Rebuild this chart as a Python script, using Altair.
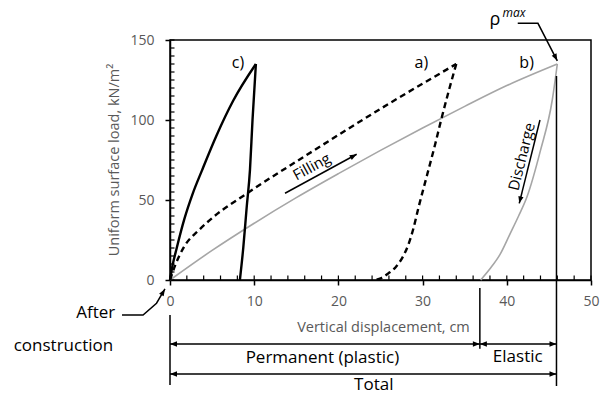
import math
import altair as alt
import pandas as pd

# ---------------- data ----------------
c_load_x = [0, 0.3, 0.8, 1.7, 2.7, 3.8, 5.5, 7.5, 10.2]
c_load_y = [0, 9, 20, 38, 54, 68.5, 90, 112, 135]
c_unload_x = [10.2, 9.8, 9.5, 9.1, 8.7, 8.3]
c_unload_y = [135, 100, 69, 45, 20, 0]

a_load_x = [0, 0.6, 1.7, 3.4, 5.3, 9.1, 16.2, 26.1, 34.0]
a_load_y = [0, 9, 21, 31, 40, 54, 78, 110.5, 135]
a_unload_x = [34.0, 33.2, 32.2, 31.5, 30.5, 29.5, 28.9, 28.3, 27.6, 26.8, 25.9, 25.1, 24.4]
a_unload_y = [135, 120, 100, 85, 65, 45, 32, 22, 14, 8, 4, 1.2, 0]

b_load_x = [0, 5, 10, 15, 20, 25, 30, 35, 40, 46.0]
b_load_y = [0, 18.5, 35.5, 51.5, 66.5, 81, 95, 108.5, 121.5, 135]
b_unload_x = [46.0, 45.4, 44.0, 42.4, 41.4, 40.4, 39.2, 38.0, 36.9]
b_unload_y = [135, 112.5, 81, 52, 40, 29, 16, 7, 0]

x_ticks = [0, 10, 20, 30, 40, 50]
y_ticks = [0, 25, 50, 75, 100, 125, 150]
x_minor = list(range(0, 51, 2))
y_minor = list(range(0, 151, 5))

# annotation texts
label_text = ["c)", "a)", "b)", "Filling", "Discharge", "\u03c1",
              "After", "construction", "Vertical displacement,  cm",
              "Permanent (plastic)", "Elastic", "Total",
              "Uniform surface load, kN/m\u00b2"]
label_x = [8.07, 29.86, 42.35, 16.83, 41.77, 38.6, -6.5, -6.75, 35.6, 18.1, 41.3, 24.2, -6.53]
label_y = [135.6, 135.6, 135.6, 70.8, 77.1, 162.5, -20.8, -41.25, -30, -48.75, -48.1, -65.8, 75]
label_size = [16, 16, 16, 15, 15, 18, 17, 17, 14.5, 17, 17, 17, 14.5]
label_angle = [0, 0, 0, 331.4, 284, 0, 0, 0, 0, 0, 0, 0, 270]
label_align = ["center", "center", "center", "center", "center", "center",
               "right", "right", "right", "center", "center", "center", "center"]
label_color = ["#000000"] * 8 + ["#595959"] + ["#000000"] * 3 + ["#595959"]

sup_text = ["max"]
sup_x = [39.5]
sup_y = [166.7]

# annotation polylines: (name, xs, ys, head_at_start, head_at_end)
arrows = [
    ("filling", [13.66, 22.17], [54.2, 78.6], False, True),
    ("discharge", [43.94, 41.48], [100.0, 47.9], False, True),
    ("permanent", [0, 36.8], [-40, -40], True, True),
    ("elastic", [36.8, 45.9], [-40, -40], True, True),
    ("total", [0, 45.9], [-58.75, -58.75], True, True),
    ("after", [-5.7, -3.2, -1.6, -0.6], [-21.9, -21.9, -14.5, -5.6], False, True),
    ("rho", [41.3, 43.7, 46.0], [160.4, 160.4, 137.0], False, True),
    ("v0", [0, 0], [-21.9, -65.6], False, False),
    ("v37", [36.8, 36.8], [-5, -43], False, False),
    ("v46", [45.9, 45.9], [127.5, -66.25], False, False),
]

# ---------------- geometry ----------------
W, H = 421, 240
XMAX, YMAX = 50, 150
SX, SY = W / XMAX, H / YMAX
FONT = "Open Sans"


def curve(name, xs, ys):
    return pd.DataFrame({"s": name, "o": range(len(xs)), "x": xs, "y": ys})


curves = pd.concat([
    curve("c1", c_load_x, c_load_y), curve("c2", c_unload_x, c_unload_y),
])
dashed = pd.concat([
    curve("a1", a_load_x, a_load_y), curve("a2", a_unload_x, a_unload_y),
])
gray = pd.concat([
    curve("b1", b_load_x, b_load_y), curve("b2", b_unload_x, b_unload_y),
])

xs_scale = alt.Scale(domain=[0, XMAX], nice=False, zero=False)
ys_scale = alt.Scale(domain=[0, YMAX], nice=False, zero=False)


def head_angle(x1, y1, x2, y2):
    dx = (x2 - x1) * SX
    dy = -(y2 - y1) * SY
    return math.degrees(math.atan2(dx, -dy)) % 360


line_rows, head_rows = [], []
for name, xs, ys, h0, h1 in arrows:
    for i, (x, y) in enumerate(zip(xs, ys)):
        line_rows.append({"s": name, "o": i, "x": x, "y": y})
    if h1:
        head_rows.append({"x": xs[-1], "y": ys[-1],
                          "a": head_angle(xs[-2], ys[-2], xs[-1], ys[-1])})
    if h0:
        head_rows.append({"x": xs[0], "y": ys[0],
                          "a": head_angle(xs[1], ys[1], xs[0], ys[0])})
lines_df = pd.DataFrame(line_rows)
heads_df = pd.DataFrame(head_rows)

labels_df = pd.DataFrame({"t": label_text, "x": label_x, "y": label_y,
                          "sz": label_size, "ang": label_angle,
                          "al": label_align, "col": label_color})
sup_df = pd.DataFrame({"t": sup_text, "x": sup_x, "y": sup_y})

x_axis = alt.Axis(values=x_ticks, tickSize=5, tickWidth=1.5, tickColor="black",
                  domainColor="black", domainWidth=1.5, labelColor="#595959",
                  labelFontSize=14, labelFont=FONT, labelPadding=9, title=None,
                  grid=False, labelFlush=False)
y_axis = alt.Axis(values=y_ticks, tickSize=5, tickWidth=1.5, tickColor="black",
                  domainColor="black", domainWidth=1.5, labelColor="#595959",
                  labelFontSize=14, labelFont=FONT, labelPadding=11, title=None,
                  grid=False, labelFlush=False)

base_gray = alt.Chart(gray).mark_line(
    color="#a6a6a6", strokeWidth=1.6, interpolate="monotone"
).encode(
    x=alt.X("x:Q", scale=xs_scale, axis=x_axis),
    y=alt.Y("y:Q", scale=ys_scale, axis=y_axis),
    detail="s:N", order="o:Q",
)
dashed_layer = alt.Chart(dashed).mark_line(
    color="black", strokeWidth=2.4, strokeDash=[6, 4], interpolate="monotone"
).encode(x="x:Q", y="y:Q", detail="s:N", order="o:Q")
solid_layer = alt.Chart(curves).mark_line(
    color="black", strokeWidth=2.4, interpolate="monotone"
).encode(x="x:Q", y="y:Q", detail="s:N", order="o:Q")

xminor_layer = alt.Chart(pd.DataFrame({"v": x_minor})).mark_rule(
    color="black", strokeWidth=1.2
).encode(x="v:Q", y=alt.value(H), y2=alt.value(H - 4.5))
yminor_layer = alt.Chart(pd.DataFrame({"v": y_minor})).mark_rule(
    color="black", strokeWidth=1.2
).encode(y="v:Q", x=alt.value(0), x2=alt.value(4.5))

ann_lines = alt.Chart(lines_df).mark_line(color="black", strokeWidth=1.5).encode(
    x="x:Q", y="y:Q", detail="s:N", order="o:Q")
ann_heads = alt.Chart(heads_df).mark_point(
    shape="M0,0L-0.38,1L0.38,1Z", filled=True, color="black", opacity=1,
    size=196, strokeWidth=0
).encode(x="x:Q", y="y:Q", angle=alt.Angle("a:Q", scale=None))


def text_layer(align):
    return alt.Chart(labels_df).transform_filter(
        alt.datum.al == align
    ).mark_text(font=FONT, baseline="middle", align=align).encode(
        x="x:Q", y="y:Q", text="t:N",
        size=alt.Size("sz:Q", scale=None),
        angle=alt.Angle("ang:Q", scale=None),
        color=alt.Color("col:N", scale=None),
    )


sup_layer = alt.Chart(sup_df).mark_text(
    font=FONT, fontStyle="italic", fontSize=12, align="left", baseline="middle",
    color="black"
).encode(x="x:Q", y="y:Q", text="t:N")

chart = alt.layer(
    base_gray, dashed_layer, solid_layer, xminor_layer, yminor_layer,
    ann_lines, ann_heads, text_layer("center"), text_layer("right"), sup_layer,
).properties(
    width=W, height=H,
    padding={"left": 170, "top": 40, "right": 10, "bottom": 115},
    autosize=alt.AutoSizeParams(type="none"),
    background="white",
).configure_view(stroke="black", strokeWidth=1.5)

chart.save("out.html", embed_options={"renderer": "svg", "actions": False})
